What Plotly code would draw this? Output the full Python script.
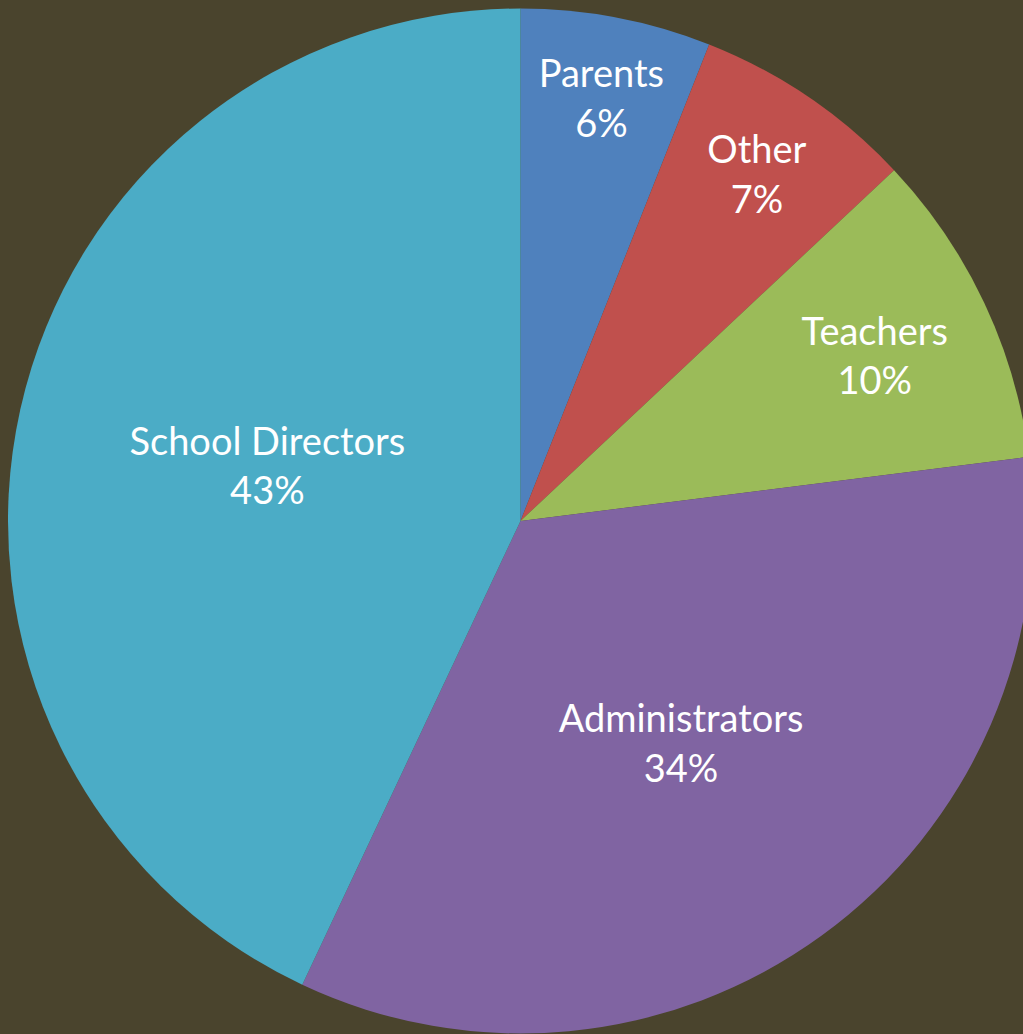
import plotly.graph_objects as go

labels = ["Parents", "Other", "Teachers", "Administrators", "School Directors"]
values = [6, 7, 10, 34, 43]
colors = ["#4F81BD", "#C0504D", "#9BBB59", "#8064A2", "#4BACC6"]
bg = "#4A442D"

fig = go.Figure(go.Pie(
    labels=labels,
    values=values,
    sort=False,
    direction="clockwise",
    rotation=0,
    marker=dict(colors=colors, line=dict(width=0)),
    texttemplate="%{label}<br>%{percent:.0%}",
    textposition="inside",
    insidetextorientation="horizontal",
    textfont=dict(family="Lato", size=38, color="white"),
    hoverinfo="label+percent",
    showlegend=False,
))
fig.update_layout(
    width=1033, height=1034,
    margin=dict(l=8, r=0, t=8, b=0),
    paper_bgcolor=bg,
    plot_bgcolor=bg,
    uniformtext=dict(minsize=38, mode="show"),
)
fig.write_html(
    "out.html",
    config={"displayModeBar": False},
    post_script=(
        "document.documentElement.style.backgroundColor='" + bg + "';"
        "document.body.style.backgroundColor='" + bg + "';"
        "document.body.style.margin='0';"
        "document.body.style.overflow='hidden';"
    ),
)
